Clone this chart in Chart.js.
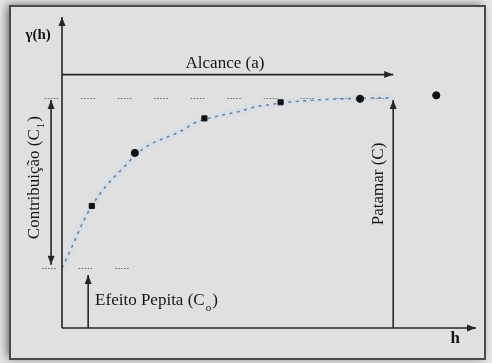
<!DOCTYPE html>
<html>
<head>
<meta charset="utf-8">
<script src="https://cdn.jsdelivr.net/npm/chart.js@4/dist/chart.umd.min.js"></script>
<style>
  html, body { margin: 0; padding: 0; background: #e3e3e3; }
  #wrap { width: 492px; height: 363px; }
</style>
</head>
<body>
<div id="wrap"><canvas id="c" width="492" height="363"></canvas></div>
<script>
// Experimental semivariogram: lag distance h and semivariance γ(h)
const lagH = [0.9, 2.2, 4.3, 6.6, 9.0, 11.3];
const gammaObs = [5.3, 7.6, 9.1, 9.8, 9.95, 10.1];
const obsStyles = ['rect', 'circle', 'rect', 'rect', 'circle', 'circle'];

// Fitted model curve
const modelH = [0, 0.2, 0.4, 0.6, 0.9, 1.35, 1.85, 2.25, 2.7, 3.2, 3.6, 4.0, 4.3, 4.85, 5.35, 5.85, 6.3, 6.6, 7.5, 8.3, 9.0, 10];
const modelGamma = [2.6, 3.2, 3.85, 4.5, 5.3, 6.2, 6.95, 7.55, 8.0, 8.3, 8.55, 8.9, 9.05, 9.25, 9.4, 9.6, 9.7, 9.77, 9.88, 9.94, 9.97, 10];

// Model parameters
const nugget = 2.6;   // C0
const sill = 10;      // C
const range = 10;     // a

// Axis extents
const hMax = 12.5;
const gammaMax = 13.5;

// Texts
const txtAlcance = 'Alcance (a)';
const txtPatamar = 'Patamar (C)';
const txtContrib = 'Contribuição (C';
const txtContribSub = '1';
const txtPepita = 'Efeito Pepita (C';
const txtPepitaSub = 'o';
const txtGamma = 'γ(h)';
const txtH = 'h';

const ink = '#262626';
const serif = '"Liberation Serif", "DejaVu Serif", serif';

function arrowHead(ctx, x0, y0, x1, y1, len, half) {
  const ang = Math.atan2(y1 - y0, x1 - x0);
  ctx.beginPath();
  ctx.moveTo(x1, y1);
  ctx.lineTo(x1 - len * Math.cos(ang) + half * Math.sin(ang), y1 - len * Math.sin(ang) - half * Math.cos(ang));
  ctx.lineTo(x1 - len * Math.cos(ang) - half * Math.sin(ang), y1 - len * Math.sin(ang) + half * Math.cos(ang));
  ctx.closePath();
  ctx.fill();
}

function arrow(ctx, x0, y0, x1, y1, both) {
  ctx.beginPath();
  ctx.moveTo(x0, y0);
  ctx.lineTo(x1, y1);
  ctx.stroke();
  arrowHead(ctx, x0, y0, x1, y1, 9, 3.5);
  if (both) arrowHead(ctx, x1, y1, x0, y0, 9, 3.5);
}

const diagram = {
  id: 'variogramDiagram',
  beforeDraw(chart) {
    const ctx = chart.ctx;
    ctx.save();
    ctx.fillStyle = '#e6e6e6';
    ctx.fillRect(0, 0, chart.width, chart.height);
    // framed panel with a soft shadow
    ctx.shadowColor = 'rgba(0,0,0,0.55)';
    ctx.shadowBlur = 9;
    ctx.shadowOffsetX = -3;
    ctx.shadowOffsetY = -1;
    ctx.fillStyle = '#e0e0e0';
    ctx.fillRect(10, 6, 475, 353);
    ctx.shadowColor = 'transparent';
    ctx.lineWidth = 2;
    ctx.strokeStyle = '#4a4a4a';
    ctx.strokeRect(10, 6, 475, 353);
    ctx.restore();
  },
  beforeDatasetsDraw(chart) {
    const ctx = chart.ctx;
    const xs = chart.scales.x, ys = chart.scales.y;
    const px = v => xs.getPixelForValue(v);
    const py = v => ys.getPixelForValue(v);
    ctx.save();
    ctx.strokeStyle = '#6a6a6a';
    ctx.lineWidth = 1;
    ctx.setLineDash([1.5, 1.5, 1.5, 1.5, 1.5, 1.5, 1.5, 1.5, 1.5, 23]);
    // sill level
    ctx.beginPath();
    ctx.moveTo(px(-0.52), Math.round(py(sill)) + 0.5);
    ctx.lineTo(px(range), Math.round(py(sill)) + 0.5);
    ctx.stroke();
    // nugget level
    ctx.beginPath();
    ctx.moveTo(px(-0.6), Math.round(py(nugget)) + 0.5);
    ctx.lineTo(px(2.2), Math.round(py(nugget)) + 0.5);
    ctx.stroke();
    ctx.restore();
  },
  afterDatasetsDraw(chart) {
    const ctx = chart.ctx;
    const xs = chart.scales.x, ys = chart.scales.y;
    const px = v => xs.getPixelForValue(v);
    const py = v => ys.getPixelForValue(v);
    ctx.save();
    ctx.strokeStyle = ink;
    ctx.fillStyle = ink;
    ctx.lineWidth = 1.6;

    // axes
    arrow(ctx, px(0), py(0), px(0), py(gammaMax));
    arrow(ctx, px(0), py(0), px(hMax), py(0));

    // range
    arrow(ctx, px(0), py(11), px(range), py(11));
    // sill
    arrow(ctx, px(range), py(0), px(range), py(sill - 0.1));
    // partial sill (contribution)
    arrow(ctx, px(-0.33), py(nugget + 0.15), px(-0.33), py(sill - 0.1), true);
    // nugget effect
    arrow(ctx, px(0.79), py(0), px(0.79), py(nugget - 0.3));

    // labels
    ctx.fillStyle = '#151515';
    ctx.font = '17px ' + serif;
    ctx.textBaseline = 'alphabetic';

    ctx.textAlign = 'center';
    ctx.fillText(txtAlcance, px(4.92), py(11.52) + 5);

    // Efeito Pepita (C0)
    ctx.textAlign = 'left';
    let x = px(1.0), yb = py(1.22) + 5;
    ctx.fillText(txtPepita, x, yb);
    x += ctx.measureText(txtPepita).width + 1;
    ctx.font = '11px ' + serif;
    ctx.fillText(txtPepitaSub, x, yb + 6);
    x += ctx.measureText(txtPepitaSub).width + 1;
    ctx.font = '17px ' + serif;
    ctx.fillText(')', x, yb);

    // Patamar (C), rotated
    ctx.save();
    ctx.translate(px(9.57), py(6.25));
    ctx.rotate(-Math.PI / 2);
    ctx.textAlign = 'center';
    ctx.textBaseline = 'middle';
    ctx.fillText(txtPatamar, 0, 0);
    ctx.restore();

    // Contribuição (C1), rotated
    ctx.save();
    ctx.translate(px(-0.815), py(6.53));
    ctx.rotate(-Math.PI / 2);
    ctx.textBaseline = 'middle';
    ctx.font = '17px ' + serif;
    const w1 = ctx.measureText(txtContrib).width;
    ctx.font = '11px ' + serif;
    const w2 = ctx.measureText(txtContribSub).width;
    ctx.font = '17px ' + serif;
    const w3 = ctx.measureText(')').width;
    let sx = -(w1 + w2 + w3 + 2) / 2;
    ctx.textAlign = 'left';
    ctx.fillText(txtContrib, sx, 0);
    sx += w1 + 1;
    ctx.font = '11px ' + serif;
    ctx.fillText(txtContribSub, sx, 6);
    sx += w2 + 1;
    ctx.font = '17px ' + serif;
    ctx.fillText(')', sx, 0);
    ctx.restore();

    // axis names
    ctx.textAlign = 'center';
    ctx.textBaseline = 'middle';
    ctx.font = 'bold 15px ' + serif;
    ctx.fillText(txtGamma, px(-0.72), py(12.72));
    ctx.font = 'bold 17px ' + serif;
    ctx.fillText(txtH, px(11.87), py(-0.48));
    ctx.restore();
  }
};

new Chart(document.getElementById('c'), {
  type: 'scatter',
  data: {
    datasets: [
      {
        label: 'halo',
        data: modelH.map((h, i) => ({ x: h, y: modelGamma[i] })),
        showLine: true,
        borderColor: 'rgba(185,215,240,0.22)',
        borderWidth: 7,
        pointRadius: 0,
        cubicInterpolationMode: 'monotone',
        order: 3
      },
      {
        label: 'modelo',
        data: modelH.map((h, i) => ({ x: h, y: modelGamma[i] })),
        showLine: true,
        borderColor: '#6584a8',
        borderWidth: 1.6,
        borderDash: [3, 4.5],
        pointRadius: 0,
        cubicInterpolationMode: 'monotone',
        order: 2
      },
      {
        label: 'observado',
        data: lagH.map((h, i) => ({ x: h, y: gammaObs[i] })),
        pointStyle: obsStyles,
        pointRadius: 3.6,
        backgroundColor: '#111',
        borderColor: '#111',
        borderWidth: 1,
        order: 1
      }
    ]
  },
  options: {
    responsive: false,
    animation: false,
    layout: { padding: { left: 62, top: 17, right: 16, bottom: 35 } },
    plugins: { legend: { display: false }, tooltip: { enabled: false } },
    scales: {
      x: { type: 'linear', display: false, min: 0, max: hMax },
      y: { type: 'linear', display: false, min: 0, max: gammaMax }
    }
  },
  plugins: [diagram]
});
</script>
</body>
</html>
